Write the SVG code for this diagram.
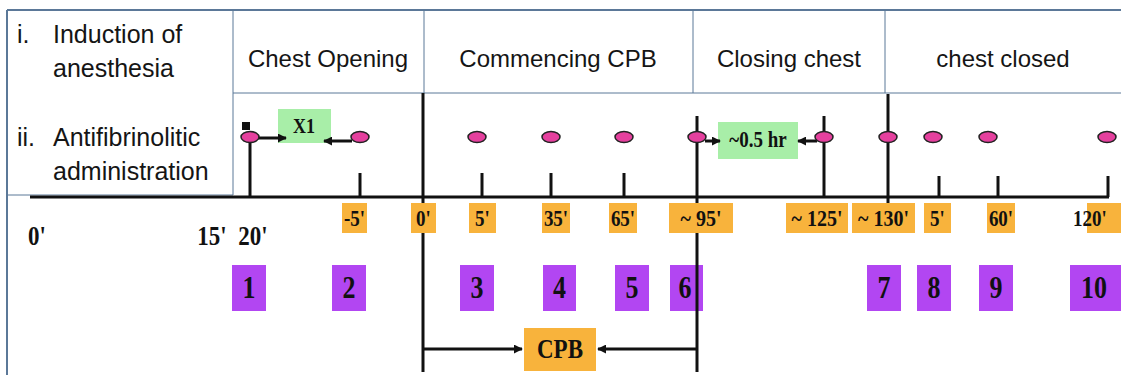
<svg xmlns="http://www.w3.org/2000/svg" width="1121" height="375" viewBox="0 0 1121 375">
<style>
.hdr{font-family:"Liberation Sans",Arial,sans-serif;font-size:24px;fill:#151515}
.lft{font-family:"Liberation Sans",Arial,sans-serif;font-size:25px;fill:#151515}
.lbl{font-family:"Liberation Serif","Times New Roman",serif;font-weight:bold;fill:#111;text-anchor:middle}
.ob{fill:#F8B33C}
.pb{fill:#B246F2}
.gb{fill:#A8EEA8}
.dot{fill:#E5409E;stroke:#222;stroke-width:1.5}
.tl{stroke:#111;stroke-width:3;fill:none}
.ar{stroke:#111;stroke-width:3;fill:none}
.grid{stroke:#5B7898;stroke-width:1;fill:none}
</style>
<defs>
<marker id="ah" viewBox="0 0 10 10" refX="9" refY="5" markerWidth="9" markerHeight="9" markerUnits="userSpaceOnUse" orient="auto">
<path d="M0,0 L10,5 L0,10 z" fill="#111"/>
</marker>
</defs>
<rect width="1121" height="375" fill="#fff"/>

<g id="table">
<line class="grid" x1="7" y1="10" x2="1121" y2="10" style="stroke-width:2"/>
<line class="grid" x1="7" y1="10" x2="7" y2="375" style="stroke-width:2"/>
<line class="grid" x1="233" y1="10" x2="233" y2="195"/>
<line class="grid" x1="424" y1="10" x2="424" y2="93"/>
<line class="grid" x1="693" y1="10" x2="693" y2="93"/>
<line class="grid" x1="885" y1="10" x2="885" y2="93"/>
<line class="grid" x1="233" y1="93" x2="1121" y2="93"/>
<line class="grid" x1="7" y1="195" x2="233" y2="195"/>
</g>

<g id="row-labels">
<text class="lft" x="17" y="43">i.</text>
<text class="lft" x="53" y="43">Induction of</text>
<text class="lft" x="53" y="77">anesthesia</text>
<text class="lft" x="17" y="146">ii.</text>
<text class="lft" x="53" y="146">Antifibrinolitic</text>
<text class="lft" x="53" y="180">administration</text>
</g>

<g id="phase-chest-opening"><text class="hdr" x="328" y="67" text-anchor="middle">Chest Opening</text></g>
<g id="phase-commencing-cpb"><text class="hdr" x="558" y="67" text-anchor="middle">Commencing CPB</text></g>
<g id="phase-closing-chest"><text class="hdr" x="789" y="67" text-anchor="middle">Closing chest</text></g>
<g id="phase-chest-closed"><text class="hdr" x="1003" y="67" text-anchor="middle">chest closed</text></g>

<g id="samples">
<g id="s1"><rect class="pb" x="232" y="265" width="34" height="46"/><text class="lbl" transform="translate(249,298) scale(1,1.2)" font-size="26">1</text></g>
<g id="s2"><rect class="pb" x="332" y="265" width="34" height="46"/><text class="lbl" transform="translate(349,298) scale(1,1.2)" font-size="26">2</text></g>
<g id="s3"><rect class="pb" x="460" y="265" width="34" height="46"/><text class="lbl" transform="translate(477,298) scale(1,1.2)" font-size="26">3</text></g>
<g id="s4"><rect class="pb" x="543" y="265" width="33" height="46"/><text class="lbl" transform="translate(559.5,298) scale(1,1.2)" font-size="26">4</text></g>
<g id="s5"><rect class="pb" x="615" y="265" width="34" height="46"/><text class="lbl" transform="translate(632,298) scale(1,1.2)" font-size="26">5</text></g>
<g id="s6"><rect class="pb" x="670" y="265" width="33" height="46"/><text class="lbl" transform="translate(685,298) scale(1,1.2)" font-size="26">6</text></g>
<g id="s7"><rect class="pb" x="867" y="265" width="34" height="46"/><text class="lbl" transform="translate(884,298) scale(1,1.2)" font-size="26">7</text></g>
<g id="s8"><rect class="pb" x="917" y="265" width="34" height="46"/><text class="lbl" transform="translate(934,298) scale(1,1.2)" font-size="26">8</text></g>
<g id="s9"><rect class="pb" x="979" y="265" width="34" height="46"/><text class="lbl" transform="translate(996,298) scale(1,1.2)" font-size="26">9</text></g>
<g id="s10"><rect class="pb" x="1070" y="265" width="51" height="46"/><text class="lbl" transform="translate(1094,298) scale(1,1.2)" font-size="26">10</text></g>
</g>

<g id="x1-box"><rect class="gb" x="278" y="109" width="53" height="34"/><text class="lbl" transform="translate(304,133) scale(1,1.2)" font-size="18">X1</text></g>
<g id="half-hr-box"><rect class="gb" x="718" y="122" width="80" height="37"/><text class="lbl" transform="translate(758,147) scale(1,1.2)" font-size="19">~0.5 hr</text></g>

<g id="connectors">
<line class="tl" x1="30" y1="197" x2="1109" y2="197"/>
<line class="tl" x1="250" y1="137" x2="250" y2="197"/>
<line class="tl" x1="360" y1="173" x2="360" y2="197"/>
<line class="tl" x1="423" y1="93" x2="423" y2="372"/>
<line class="tl" x1="482" y1="173" x2="482" y2="197"/>
<line class="tl" x1="551" y1="173" x2="551" y2="197"/>
<line class="tl" x1="624" y1="173" x2="624" y2="197"/>
<line class="tl" x1="697" y1="116" x2="697" y2="372"/>
<line class="tl" x1="824" y1="116" x2="824" y2="197"/>
<line class="tl" x1="888" y1="94" x2="888" y2="203"/>
<line class="tl" x1="939" y1="176" x2="939" y2="197"/>
<line class="tl" x1="998" y1="176" x2="998" y2="197"/>
<line class="tl" x1="1108" y1="176" x2="1108" y2="197"/>
<line class="ar" x1="258" y1="138" x2="286" y2="138" marker-end="url(#ah)"/>
<line class="ar" x1="352" y1="141" x2="324" y2="141" marker-end="url(#ah)"/>
<line class="ar" x1="705" y1="141" x2="720" y2="141" marker-end="url(#ah)"/>
<line class="ar" x1="817" y1="141" x2="798" y2="141" marker-end="url(#ah)"/>
<line class="ar" x1="423" y1="349" x2="522" y2="349" marker-end="url(#ah)"/>
<line class="ar" x1="697" y1="349" x2="598" y2="349" marker-end="url(#ah)"/>
</g>

<g id="doses">
<rect x="242" y="122" width="8" height="8" fill="#111"/>
<ellipse class="dot" cx="250" cy="137" rx="9" ry="5.5"/>
<ellipse class="dot" cx="360" cy="137" rx="9" ry="5.5"/>
<ellipse class="dot" cx="477" cy="137" rx="9" ry="5.5"/>
<ellipse class="dot" cx="551" cy="137" rx="9" ry="5.5"/>
<ellipse class="dot" cx="624" cy="137" rx="9" ry="5.5"/>
<ellipse class="dot" cx="697" cy="137" rx="9" ry="5.5"/>
<ellipse class="dot" cx="824" cy="137" rx="9" ry="5.5"/>
<ellipse class="dot" cx="888" cy="137" rx="9" ry="5.5"/>
<ellipse class="dot" cx="933" cy="137" rx="9" ry="5.5"/>
<ellipse class="dot" cx="988" cy="137" rx="9" ry="5.5"/>
<ellipse class="dot" cx="1107" cy="137" rx="9" ry="5.5"/>
</g>

<g id="start-times">
<text class="lbl" transform="translate(37,245) scale(1,1.2)" font-size="23">0'</text>
<text class="lbl" transform="translate(212,245) scale(1,1.2)" font-size="23">15'</text>
<text class="lbl" transform="translate(253,245) scale(1,1.2)" font-size="23">20'</text>
</g>

<g id="times">
<g><rect class="ob" x="342" y="203" width="25" height="30"/><text class="lbl" transform="translate(354.5,226) scale(1,1.2)" font-size="19">-5'</text></g>
<g><rect class="ob" x="411" y="203" width="25" height="30"/><text class="lbl" transform="translate(423.5,226) scale(1,1.2)" font-size="19">0'</text></g>
<g><rect class="ob" x="469" y="203" width="27" height="30"/><text class="lbl" transform="translate(482.5,226) scale(1,1.2)" font-size="19">5'</text></g>
<g><rect class="ob" x="542" y="203" width="28" height="30"/><text class="lbl" transform="translate(556,226) scale(1,1.2)" font-size="19">35'</text></g>
<g><rect class="ob" x="609" y="203" width="28" height="30"/><text class="lbl" transform="translate(623,226) scale(1,1.2)" font-size="19">65'</text></g>
<g><rect class="ob" x="669" y="203" width="64" height="30"/><text class="lbl" transform="translate(701,226) scale(1,1.2)" font-size="20">~ 95'</text></g>
<g><rect class="ob" x="786" y="203" width="62" height="30"/><text class="lbl" transform="translate(817,226) scale(1,1.2)" font-size="20">~ 125'</text></g>
<g><rect class="ob" x="852" y="203" width="63" height="30"/><text class="lbl" transform="translate(883.5,226) scale(1,1.2)" font-size="20">~ 130'</text></g>
<g><rect class="ob" x="924" y="203" width="27" height="30"/><text class="lbl" transform="translate(937.5,226) scale(1,1.2)" font-size="19">5'</text></g>
<g><rect class="ob" x="987" y="203" width="28" height="30"/><text class="lbl" transform="translate(1001,226) scale(1,1.2)" font-size="19">60'</text></g>
<g><rect class="ob" x="1087" y="203" width="34" height="30"/><text class="lbl" transform="translate(1090,226) scale(1,1.2)" font-size="19" text-anchor="start">120'</text></g>
</g>

<g id="cpb"><rect class="ob" x="524" y="328" width="72" height="43"/><text class="lbl" transform="translate(560,358) scale(1,1.2)" font-size="23">CPB</text></g>
</svg>
